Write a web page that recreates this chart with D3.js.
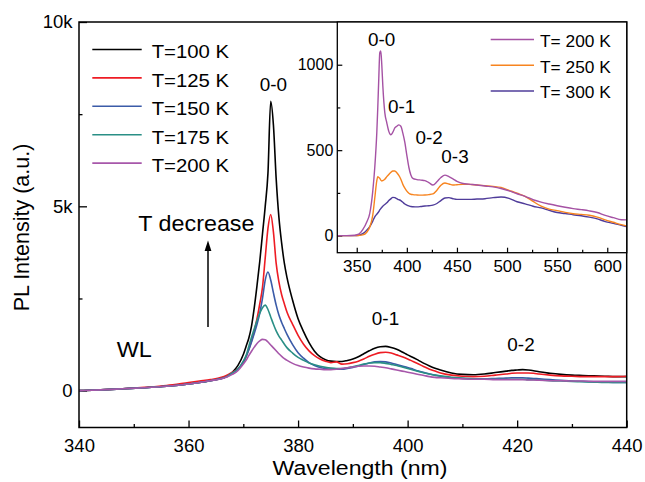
<!DOCTYPE html>
<html>
<head>
<meta charset="utf-8">
<script src="https://cdn.jsdelivr.net/npm/d3@7"></script>
<style>
  html, body { margin: 0; padding: 0; background: #fff; }
  svg { display: block; font-family: "Liberation Sans", Arial, sans-serif; }
  text { fill: #000; }
</style>
</head>
<body>
<svg id="chart" width="645" height="482"></svg>
<script>
// ---- Main panel: PL spectra at low temperature (intensity in thousands) ----
const wavelength = [340, 344, 348, 352, 356, 360, 362, 364, 366, 367, 368, 369, 370, 370.5, 371, 371.5, 372, 372.5, 373, 373.5, 374, 374.5, 375, 375.5, 376, 376.5, 377, 377.5, 378, 379, 380, 381, 382, 383, 384, 385, 386, 387, 388, 389, 390, 391, 392, 393, 394, 395, 396, 397, 398, 399, 400, 401, 402, 403, 404, 405, 406, 408, 410, 412, 414, 416, 418, 419, 420, 421, 422, 423, 424, 426, 428, 430, 432, 434, 436, 438, 440];

const t100 = [0, 0.02, 0.05, 0.08, 0.12, 0.18, 0.22, 0.27, 0.33, 0.38, 0.5, 0.68, 0.98, 1.2, 1.42, 1.75, 2.25, 2.85, 3.5, 4.25, 5.0, 5.9, 7.85, 7.2, 5.75, 4.7, 4.0, 3.45, 3.05, 2.45, 1.95, 1.6, 1.3, 1.07, 0.92, 0.84, 0.8, 0.79, 0.79, 0.82, 0.86, 0.92, 1.0, 1.08, 1.15, 1.19, 1.2, 1.17, 1.12, 1.05, 0.97, 0.9, 0.82, 0.74, 0.67, 0.61, 0.56, 0.48, 0.44, 0.43, 0.45, 0.49, 0.53, 0.55, 0.56, 0.57, 0.56, 0.54, 0.51, 0.47, 0.44, 0.42, 0.41, 0.4, 0.39, 0.38, 0.38];
const t125 = [0, 0.02, 0.05, 0.09, 0.14, 0.22, 0.26, 0.3, 0.36, 0.42, 0.5, 0.58, 0.75, 0.92, 1.12, 1.35, 1.62, 1.95, 2.35, 2.8, 3.6, 4.4, 4.78, 4.3, 3.45, 2.95, 2.6, 2.35, 2.12, 1.8, 1.5, 1.26, 1.08, 0.95, 0.86, 0.8, 0.76, 0.78, 0.72, 0.73, 0.76, 0.8, 0.86, 0.93, 0.99, 1.03, 1.04, 1.02, 0.97, 0.92, 0.86, 0.79, 0.72, 0.65, 0.58, 0.53, 0.48, 0.42, 0.39, 0.38, 0.39, 0.42, 0.45, 0.47, 0.48, 0.48, 0.48, 0.47, 0.45, 0.42, 0.4, 0.39, 0.38, 0.38, 0.38, 0.38, 0.39];
const t150 = [0, 0.02, 0.05, 0.08, 0.12, 0.18, 0.22, 0.27, 0.33, 0.38, 0.48, 0.58, 0.78, 0.92, 1.1, 1.32, 1.55, 1.8, 2.1, 2.5, 3.0, 3.22, 3.0, 2.65, 2.32, 2.05, 1.85, 1.68, 1.52, 1.25, 1.03, 0.88, 0.76, 0.68, 0.63, 0.6, 0.58, 0.58, 0.58, 0.6, 0.63, 0.67, 0.71, 0.75, 0.78, 0.79, 0.78, 0.75, 0.71, 0.67, 0.63, 0.58, 0.53, 0.49, 0.45, 0.42, 0.39, 0.35, 0.33, 0.32, 0.32, 0.33, 0.34, 0.35, 0.35, 0.35, 0.34, 0.33, 0.32, 0.3, 0.28, 0.26, 0.25, 0.24, 0.23, 0.22, 0.22];
const t175 = [0, 0.02, 0.05, 0.08, 0.12, 0.18, 0.22, 0.27, 0.33, 0.38, 0.48, 0.58, 0.8, 0.95, 1.2, 1.45, 1.68, 1.9, 2.1, 2.25, 2.32, 2.2, 2.0, 1.8, 1.62, 1.48, 1.37, 1.26, 1.16, 1.02, 0.9, 0.82, 0.75, 0.7, 0.66, 0.63, 0.61, 0.6, 0.6, 0.62, 0.65, 0.68, 0.72, 0.75, 0.76, 0.76, 0.74, 0.71, 0.68, 0.64, 0.6, 0.56, 0.52, 0.48, 0.45, 0.42, 0.4, 0.36, 0.34, 0.32, 0.31, 0.31, 0.31, 0.31, 0.31, 0.31, 0.3, 0.3, 0.29, 0.27, 0.26, 0.25, 0.24, 0.23, 0.22, 0.22, 0.22];
const t200 = [0, 0.02, 0.05, 0.08, 0.12, 0.18, 0.22, 0.27, 0.32, 0.37, 0.44, 0.54, 0.72, 0.82, 0.95, 1.07, 1.18, 1.28, 1.35, 1.39, 1.38, 1.32, 1.24, 1.16, 1.08, 1.0, 0.93, 0.87, 0.82, 0.74, 0.68, 0.64, 0.61, 0.59, 0.58, 0.57, 0.57, 0.58, 0.6, 0.62, 0.64, 0.66, 0.67, 0.67, 0.66, 0.64, 0.62, 0.59, 0.56, 0.53, 0.5, 0.47, 0.44, 0.41, 0.38, 0.36, 0.35, 0.33, 0.32, 0.31, 0.31, 0.3, 0.3, 0.3, 0.3, 0.3, 0.29, 0.29, 0.28, 0.27, 0.27, 0.26, 0.26, 0.25, 0.25, 0.25, 0.25];

const mainSeries = [
  { name: "T=100 K", values: t100, color: "#000000" },
  { name: "T=125 K", values: t125, color: "#ee1c24" },
  { name: "T=150 K", values: t150, color: "#3b5ba8" },
  { name: "T=175 K", values: t175, color: "#2a8f86" },
  { name: "T=200 K", values: t200, color: "#a757aa" }
];
const mainXTicks = [340, 360, 380, 400, 420, 440];
const mainXMinor = [350, 370, 390, 410, 430];
const mainYTicks = [0, 5000, 10000];
const mainYLabels = ["0", "5k", "10k"];
const mainYMinor = [2500, 7500];

// ---- Inset: spectra at higher temperature ----
const insetWavelength = [331, 340, 348, 352, 356, 360, 363, 366, 368, 370, 371, 372, 373, 374, 375, 376, 378, 380, 382, 384, 386, 388, 390, 392, 394, 396, 398, 400, 402, 404, 406, 410, 414, 418, 422, 426, 430, 434, 438, 442, 446, 450, 456, 462, 470, 478, 486, 494, 502, 510, 518, 526, 534, 542, 550, 558, 566, 574, 582, 590, 598, 606, 614, 619];
const i200 = [0, 0, 2, 8, 35, 80, 130, 260, 400, 600, 750, 920, 1070, 1080, 1000, 880, 720, 660, 610, 590, 605, 630, 640, 648, 640, 600, 545, 470, 400, 355, 335, 328, 325, 322, 310, 296, 315, 340, 354, 345, 332, 318, 305, 301, 296, 290, 285, 276, 262, 245, 230, 210, 196, 185, 175, 166, 158, 152, 145, 135, 118, 105, 93, 92];
const i250 = [0, 0, 0, 1, 4, 20, 50, 120, 220, 320, 345, 340, 335, 325, 320, 322, 330, 345, 358, 370, 378, 378, 368, 352, 330, 300, 278, 260, 248, 242, 240, 238, 237, 238, 240, 244, 266, 295, 308, 302, 296, 298, 300, 300, 296, 292, 288, 282, 265, 248, 230, 200, 172, 155, 146, 136, 128, 124, 119, 108, 92, 78, 64, 57];
const i300 = [0, 0, 0, 2, 12, 32, 53, 85, 110, 125, 132, 140, 150, 158, 165, 172, 182, 192, 205, 215, 224, 222, 216, 210, 205, 195, 185, 179, 174, 170, 169, 168, 170, 173, 175, 178, 188, 205, 220, 222, 216, 212, 212, 212, 214, 216, 222, 226, 218, 198, 186, 172, 162, 148, 135, 129, 122, 116, 108, 98, 82, 72, 60, 53];

const insetSeries = [
  { name: "T= 200 K", values: i200, color: "#a552a4" },
  { name: "T= 250 K", values: i250, color: "#f7841f" },
  { name: "T= 300 K", values: i300, color: "#4f3c9a" }
];
const insetXTicks = [350, 400, 450, 500, 550, 600];
const insetXMinor = [375, 425, 475, 525, 575];
const insetYTicks = [0, 500, 1000];
const insetYMinor = [250, 750];

const svg = d3.select("#chart");

// Text drawn with an optional horizontal stretch
function addText(g, x, y, str, size, anchor, sx) {
  return g.append("text")
    .attr("transform", `translate(${x},${y}) scale(${sx || 1},1)`)
    .attr("text-anchor", anchor || "start")
    .style("font-size", size + "px")
    .text(str);
}

// ---------- main panel ----------
const M = { left: 79, right: 626.7, top: 22, bottom: 427.5 };
const x = d3.scaleLinear().domain([340, 440]).range([M.left, M.right]);
const y = d3.scaleLinear().domain([-1000, 10000]).range([M.bottom, M.top]);

const main = svg.append("g");

const xAxis = main.append("g").attr("transform", `translate(0,${M.bottom})`)
  .call(d3.axisBottom(x).tickValues(mainXTicks).tickSize(-7).tickPadding(11).tickFormat(d3.format("d")));
const xMinor = main.append("g").attr("transform", `translate(0,${M.bottom})`)
  .call(d3.axisBottom(x).tickValues(mainXMinor).tickSize(-3.5).tickFormat(""));
const yAxis = main.append("g").attr("transform", `translate(${M.left},0)`)
  .call(d3.axisLeft(y).tickValues(mainYTicks).tickSize(-8).tickPadding(6.5)
    .tickFormat((d, i) => mainYLabels[i]));
const yMinor = main.append("g").attr("transform", `translate(${M.left},0)`)
  .call(d3.axisLeft(y).tickValues(mainYMinor).tickSize(-3.5).tickFormat(""));

[xAxis, xMinor, yAxis, yMinor].forEach(a => {
  a.select(".domain").remove();
  a.selectAll("line").attr("stroke", "#000").attr("stroke-width", 1.3);
  a.selectAll("text").style("font-size", "18.5px").style("font-family", "Liberation Sans, Arial, sans-serif");
});

const line = d3.line()
  .x((d, i) => x(wavelength[i]))
  .y(d => y(d * 1000))
  .curve(d3.curveMonotoneX);

main.append("g").selectAll("path").data(mainSeries).join("path")
  .attr("d", s => line(s.values))
  .attr("fill", "none")
  .attr("stroke", s => s.color)
  .attr("stroke-width", 1.6)
  .attr("stroke-linejoin", "round");

main.append("rect")
  .attr("x", M.left).attr("y", M.top)
  .attr("width", M.right - M.left).attr("height", M.bottom - M.top)
  .attr("fill", "none").attr("stroke", "#000").attr("stroke-width", 1.5);

// legend
const legend = main.append("g");
mainSeries.forEach((s, i) => {
  const ly = 49.5 + i * 28.4;
  legend.append("line").attr("x1", 92.3).attr("x2", 141.7).attr("y1", ly).attr("y2", ly)
    .attr("stroke", s.color).attr("stroke-width", 1.6);
  addText(legend, 151.7, ly + 8.8, s.name, 18, "start", 1.13);
});

// annotations
addText(main, 273.3, 90.7, "0-0", 18, "middle", 1.05);
addText(main, 385.5, 325, "0-1", 18, "middle", 1.05);
addText(main, 521, 351, "0-2", 18, "middle", 1.05);
addText(main, 116.7, 357, "WL", 22.5, "start", 1.04);
addText(main, 138.3, 230.7, "T decrease", 22, "start", 1.06);

// arrow
main.append("line").attr("x1", 208).attr("x2", 208).attr("y1", 327).attr("y2", 249)
  .attr("stroke", "#000").attr("stroke-width", 1.5);
main.append("path").attr("d", "M208,240.5 L204.6,251 L211.4,251 Z").attr("fill", "#000");

// axis titles
addText(main, 360, 475, "Wavelength (nm)", 21, "middle", 1.1);
main.append("text")
  .attr("transform", "translate(28.5,227.5) rotate(-90)")
  .attr("text-anchor", "middle")
  .style("font-size", "21.5px")
  .text("PL Intensity (a.u.)");

// ---------- inset ----------
const I = { left: 337.3, right: 626.7, top: 22, bottom: 252.7 };
const ix = d3.scaleLinear().domain([330.6, 619.4]).range([I.left, I.right]);
const iy = d3.scaleLinear().domain([-100, 1250]).range([I.bottom, I.top]);

const inset = svg.append("g");
inset.append("rect")
  .attr("x", I.left).attr("y", I.top)
  .attr("width", I.right - I.left).attr("height", I.bottom - I.top)
  .attr("fill", "#fff");

const ixAxis = inset.append("g").attr("transform", `translate(0,${I.bottom})`)
  .call(d3.axisBottom(ix).tickValues(insetXTicks).tickSize(-5).tickPadding(8).tickFormat(d3.format("d")));
const ixMinor = inset.append("g").attr("transform", `translate(0,${I.bottom})`)
  .call(d3.axisBottom(ix).tickValues(insetXMinor).tickSize(-3).tickFormat(""));
const iyAxis = inset.append("g").attr("transform", `translate(${I.left},0)`)
  .call(d3.axisLeft(iy).tickValues(insetYTicks).tickSize(-5).tickPadding(4).tickFormat(d3.format("d")));
const iyMinor = inset.append("g").attr("transform", `translate(${I.left},0)`)
  .call(d3.axisLeft(iy).tickValues(insetYMinor).tickSize(-3).tickFormat(""));

[ixAxis, ixMinor, iyAxis, iyMinor].forEach(a => {
  a.select(".domain").remove();
  a.selectAll("line").attr("stroke", "#000").attr("stroke-width", 1.2);
  a.selectAll("text").style("font-size", "16px").style("font-family", "Liberation Sans, Arial, sans-serif");
});
ixAxis.selectAll("text").attr("transform", "scale(1.06,1)");

const iline = d3.line()
  .x((d, i) => ix(insetWavelength[i]))
  .y(d => iy(d))
  .curve(d3.curveMonotoneX);

inset.append("g").selectAll("path").data(insetSeries.slice().reverse()).join("path")
  .attr("d", s => iline(s.values))
  .attr("fill", "none")
  .attr("stroke", s => s.color)
  .attr("stroke-width", 1.4)
  .attr("stroke-linejoin", "round");

inset.append("rect")
  .attr("x", I.left).attr("y", I.top)
  .attr("width", I.right - I.left).attr("height", I.bottom - I.top)
  .attr("fill", "none").attr("stroke", "#000").attr("stroke-width", 1.3);

const ilegend = inset.append("g");
insetSeries.forEach((s, i) => {
  const ly = 39.5 + i * 25.7;
  ilegend.append("line").attr("x1", 490.7).attr("x2", 534).attr("y1", ly).attr("y2", ly)
    .attr("stroke", s.color).attr("stroke-width", 1.5);
  addText(ilegend, 540, ly + 7.3, s.name, 16.5, "start", 1.05);
});

addText(inset, 381.7, 45.7, "0-0", 18, "middle", 1.05);
addText(inset, 401.7, 113.3, "0-1", 18, "middle", 1.05);
addText(inset, 429.2, 144, "0-2", 18, "middle", 1.05);
addText(inset, 455, 163.3, "0-3", 18, "middle", 1.05);
</script>
</body>
</html>
